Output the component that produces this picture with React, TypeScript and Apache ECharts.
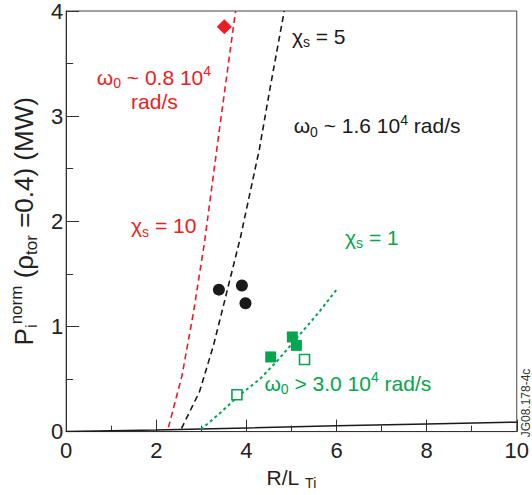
import React, { useEffect, useRef } from "react";
import * as echarts from "echarts";

const RED = "#ed1c24";
const GREEN = "#00a650";
const BLACK = "#1a1a1a";
const FONT = "'Liberation Sans', Arial, sans-serif";

const xTicks = [0, 2, 4, 6, 8, 10];
const yTicks = [0, 1, 2, 3, 4];

const circlePoints = [
  [3.39, 1.35],
  [3.9, 1.39],
  [3.98, 1.22],
];
const diamondPoints = [[3.51, 3.85]];
const filledSquarePoints = [
  [4.54, 0.71],
  [5.02, 0.9],
  [5.11, 0.82],
];
const openSquarePoints = [
  [3.79, 0.35],
  [5.29, 0.685],
];

const chi5Line = [
  [2.56, 0.03],
  [2.96, 0.38],
  [3.27, 0.82],
  [3.55, 1.3],
  [3.87, 1.85],
  [4.29, 2.69],
  [4.51, 3.23],
  [4.84, 4.0],
];
const chi10Line = [
  [2.27, 0.04],
  [2.57, 0.53],
  [2.82, 1.12],
  [3.07, 1.8],
  [3.41, 2.9],
  [3.76, 4.0],
];
const chi1Line = [
  [2.99, 0.02],
  [3.4, 0.17],
  [3.8, 0.33],
  [4.3, 0.5],
  [4.7, 0.68],
  [5.16, 0.91],
  [5.6, 1.13],
  [6.0, 1.35],
];
const baseLine = [
  [0, 0],
  [2, 0.015],
  [4, 0.035],
  [6, 0.055],
  [8, 0.072],
  [10, 0.09],
];

// annotations: [x, y] (data coords of left / vertical centre), rich text, colour
const annotations: { at: number[]; text: string; color: string }[] = [
  { at: [0.68, 3.37], text: "{m|ω}{sub|0}{m| ~ 0.8 10}{sup|4}", color: RED },
  { at: [1.44, 3.14], text: "{m|rad/s}", color: RED },
  { at: [1.44, 1.96], text: "{m|χ}{sub|s}{m| = 10}", color: RED },
  { at: [5.01, 3.76], text: "{m|χ}{sub|s}{m| = 5}", color: BLACK },
  { at: [5.05, 2.91], text: "{m|ω}{sub|0}{m| ~ 1.6 10}{sup|4}{m| rad/s}", color: BLACK },
  { at: [6.19, 1.85], text: "{m|χ}{sub|s}{m| = 1}", color: GREEN },
  { at: [4.4, 0.46], text: "{m|ω}{sub|0}{m| > 3.0 10}{sup|4}{m| rad/s}", color: GREEN },
];

const richLabel = (color: string) => ({
  m: { fontSize: 21, lineHeight: 26, verticalAlign: "middle", fontFamily: FONT, color },
  sub: { fontSize: 14, lineHeight: 14, verticalAlign: "bottom", fontFamily: FONT, color },
  sup: { fontSize: 14, lineHeight: 14, verticalAlign: "top", fontFamily: FONT, color },
});
const richGraphic = (fill: string) => ({
  m: { fontSize: 21, lineHeight: 26, verticalAlign: "middle", fontFamily: FONT, fill },
  sub: { fontSize: 14, lineHeight: 16, verticalAlign: "bottom", fontFamily: FONT, fill },
  sup: { fontSize: 14, lineHeight: 14, verticalAlign: "top", fontFamily: FONT, fill },
});

export default function App() {
  const ref = useRef<HTMLDivElement>(null);
  useEffect(() => {
    document.body.style.margin = "0";
    if (!ref.current) return;
    const chart = echarts.init(ref.current, null, { renderer: "svg" });
    const lineSeries = (data: number[][], color: string, type: any, width = 1.6) => ({
      type: "line",
      data,
      symbol: "none",
      silent: true,
      z: 2,
      lineStyle: { color, width, type },
    });
    chart.setOption({
      animation: false,
      grid: {
        left: 64,
        top: 11,
        right: 11,
        bottom: 58,
        show: true,
        borderColor: "#444",
        borderWidth: 1,
      },
      xAxis: {
        type: "value",
        min: xTicks[0],
        max: xTicks[xTicks.length - 1],
        interval: 2,
        name: "{m|R/L}{m| }{sub|Ti}",
        nameLocation: "middle",
        nameGap: 29,
        nameTextStyle: { rich: richLabel("#222") },
        axisLine: { show: true, lineStyle: { color: "#333", width: 1 } },
        axisTick: { show: true, inside: true, length: 12, lineStyle: { color: "#333" } },
        minorTick: { show: true, splitNumber: 2, length: 6, lineStyle: { color: "#333" } },
        splitLine: { show: false },
        axisLabel: { fontSize: 22, color: "#222", fontFamily: FONT, margin: 8 },
      },
      yAxis: {
        type: "value",
        min: yTicks[0],
        max: yTicks[yTicks.length - 1],
        interval: 1,
        name: "{m|P}{sub|i}{sup|norm}{m| (ρ}{sub|tor}{m| =0.4) (MW)}",
        nameLocation: "middle",
        nameRotate: 90,
        nameGap: 26,
        nameTextStyle: {
          rich: {
            m: { fontSize: 26, lineHeight: 32, verticalAlign: "middle", fontFamily: FONT, color: "#222" },
            sub: { fontSize: 17, lineHeight: 17, verticalAlign: "bottom", fontFamily: FONT, color: "#222" },
            sup: { fontSize: 17, lineHeight: 17, verticalAlign: "top", fontFamily: FONT, color: "#222" },
          },
        },
        axisLine: { show: true, lineStyle: { color: "#333", width: 1 } },
        axisTick: { show: true, inside: true, length: 13, lineStyle: { color: "#333" } },
        minorTick: { show: true, splitNumber: 2, length: 7, lineStyle: { color: "#333" } },
        splitLine: { show: false },
        axisLabel: { fontSize: 22, color: "#222", fontFamily: FONT, margin: 3 },
      },
      series: [
        lineSeries(baseLine, BLACK, "solid", 1.5),
        lineSeries(chi10Line, RED, [6, 4]),
        lineSeries(chi5Line, BLACK, [6, 4]),
        lineSeries(chi1Line, GREEN, [3, 3], 2),
        {
          type: "scatter",
          data: circlePoints,
          symbol: "circle",
          symbolSize: 12,
          z: 3,
          itemStyle: { color: BLACK, opacity: 1 },
        },
        {
          type: "scatter",
          data: diamondPoints,
          symbol: "diamond",
          symbolSize: [15, 15],
          z: 3,
          itemStyle: { color: RED, opacity: 1 },
        },
        {
          type: "scatter",
          data: filledSquarePoints,
          symbol: "rect",
          symbolSize: 11,
          z: 3,
          itemStyle: { color: GREEN, opacity: 1 },
        },
        {
          type: "scatter",
          data: openSquarePoints,
          symbol: "rect",
          symbolSize: 10,
          z: 3,
          itemStyle: { color: "#fff", borderColor: GREEN, borderWidth: 1.6, opacity: 1 },
        },
      ],
    });

    const graphics: any[] = annotations.map((a) => {
      const p = chart.convertToPixel({ gridIndex: 0 }, a.at) as number[];
      return {
        type: "text",
        x: p[0],
        y: p[1],
        z: 10,
        style: {
          text: a.text,
          rich: richGraphic(a.color),
          fill: a.color,
          verticalAlign: "middle",
          align: "left",
        },
      };
    });
    graphics.push({
      type: "text",
      x: 525.5,
      y: 403,
      rotation: Math.PI / 2,
      z: 10,
      style: {
        text: "JG08.178-4c",
        fontSize: 12,
        fontFamily: FONT,
        fill: "#333",
        align: "center",
        verticalAlign: "middle",
      },
    });
    chart.setOption({ graphic: graphics });

    return () => chart.dispose();
  }, []);
  return <div ref={ref} style={{ width: 532, height: 495 }} />;
}
